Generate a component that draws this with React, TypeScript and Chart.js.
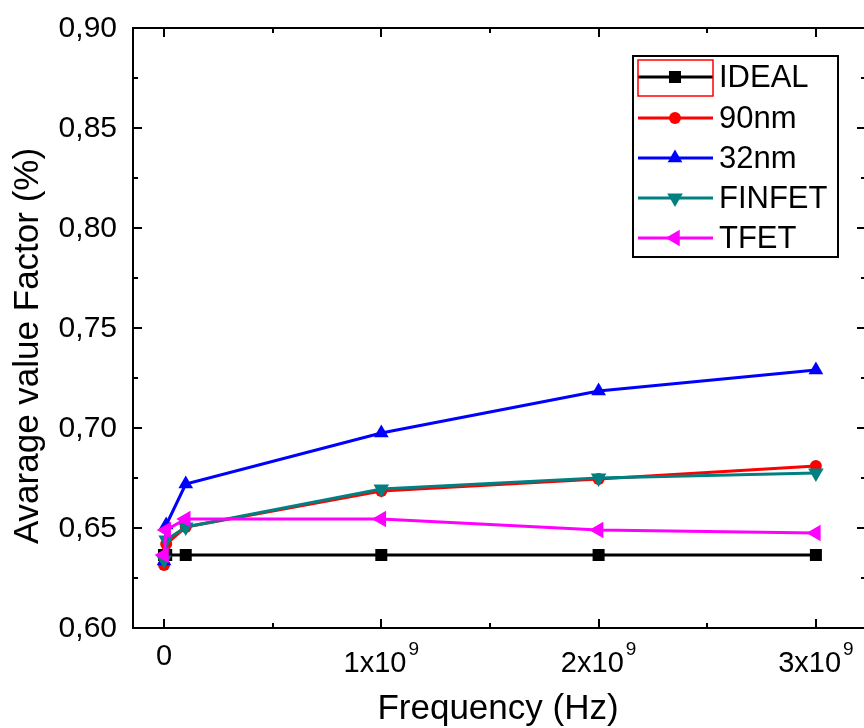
import React, { useEffect, useRef } from "react";
import { Chart, registerables } from "chart.js";

Chart.register(...registerables);

const frequencies = [0, 1e7, 1e8, 1e9, 2e9, 3e9];
const idealValues = [0.6365, 0.6365, 0.6365, 0.6365, 0.6365, 0.6365];
const nm90Values = [0.6315, 0.642, 0.6505, 0.6685, 0.6745, 0.681];
const nm32Values = [0.6335, 0.6515, 0.672, 0.6975, 0.7185, 0.729];
const finfetValues = [0.634, 0.644, 0.6505, 0.6695, 0.675, 0.6775];
const tfetValues = [0.6365, 0.649, 0.6545, 0.6545, 0.649, 0.6475];

const seriesNames = ["IDEAL", "90nm", "32nm", "FINFET", "TFET"];
const seriesColors = ["#000000", "#ff0000", "#0000ff", "#008080", "#ff00ff"];
const seriesMarkers = ["rect", "circle", "triangle", "triangle", "triangle"];
const seriesRotations = [0, 0, 0, 180, -90];
const seriesRadius = [8.5, 6, 8.5, 9, 9.5];

const yTickValues = [0.6, 0.65, 0.7, 0.75, 0.8, 0.85, 0.9];
const xTickValues = [0, 1e9, 2e9, 3e9];
const xTickMantissas = ["0", "1x10", "2x10", "3x10"];
const xTickExponent = "9";

const FONT = "'Liberation Sans', Arial, sans-serif";

function drawMarker(ctx: CanvasRenderingContext2D, style: string, rot: number, x: number, y: number, r: number, color: string) {
  ctx.save();
  ctx.fillStyle = color;
  ctx.translate(x, y);
  ctx.rotate((rot * Math.PI) / 180);
  ctx.beginPath();
  if (style === "rect") {
    const s = r * Math.SQRT1_2;
    ctx.rect(-s, -s, 2 * s, 2 * s);
  } else if (style === "circle") {
    ctx.arc(0, 0, r, 0, Math.PI * 2);
  } else {
    const h = (r * Math.sqrt(3)) / 2;
    ctx.moveTo(0, -r);
    ctx.lineTo(h, r / 2);
    ctx.lineTo(-h, r / 2);
    ctx.closePath();
  }
  ctx.fill();
  ctx.restore();
}

const framePlugin = {
  id: "framePlugin",
  afterDraw(chart: any) {
    const ctx: CanvasRenderingContext2D = chart.ctx;
    const { left, right, top, bottom } = chart.chartArea;
    const xs = chart.scales.x;
    const ys = chart.scales.y;
    ctx.save();
    ctx.strokeStyle = "#000";
    ctx.lineWidth = 2;
    ctx.strokeRect(left, top, right - left, bottom - top);

    for (let i = 0; i <= 12; i++) {
      const v = 0.6 + i * 0.025;
      const py = Math.round(ys.getPixelForValue(v));
      const len = i % 2 === 0 ? 9 : 5;
      ctx.beginPath();
      ctx.moveTo(left, py);
      ctx.lineTo(left + len, py);
      ctx.moveTo(right, py);
      ctx.lineTo(right - len, py);
      ctx.stroke();
    }
    for (let i = 0; i <= 6; i++) {
      const v = i * 0.5e9;
      const px = Math.round(xs.getPixelForValue(v));
      const len = i % 2 === 0 ? 9 : 5;
      ctx.beginPath();
      ctx.moveTo(px, bottom);
      ctx.lineTo(px, bottom - len);
      ctx.moveTo(px, top);
      ctx.lineTo(px, top + len);
      ctx.stroke();
    }

    ctx.fillStyle = "#000";
    ctx.font = `30px ${FONT}`;
    ctx.textAlign = "right";
    ctx.textBaseline = "middle";
    yTickValues.forEach((v) => {
      const py = ys.getPixelForValue(v);
      ctx.fillText(v.toFixed(2).replace(".", ","), 117, py + 1);
    });

    ctx.textBaseline = "alphabetic";
    xTickValues.forEach((v, i) => {
      const px = xs.getPixelForValue(v);
      const mant = xTickMantissas[i];
      ctx.font = `29px ${FONT}`;
      if (i === 0) {
        ctx.textAlign = "center";
        ctx.fillText(mant, px, 665);
      } else {
        const w1 = ctx.measureText(mant).width;
        ctx.font = `19px ${FONT}`;
        const w2 = ctx.measureText(xTickExponent).width;
        const start = px - (w1 + w2) / 2 - 1;
        ctx.textAlign = "left";
        ctx.font = `29px ${FONT}`;
        ctx.fillText(mant, start, 672);
        ctx.font = `19px ${FONT}`;
        ctx.fillText(xTickExponent, start + w1 + 2, 655);
      }
    });

    ctx.font = `35px ${FONT}`;
    ctx.textAlign = "center";
    ctx.textBaseline = "alphabetic";
    ctx.fillText("Frequency (Hz)", 498, 719);
    ctx.save();
    ctx.translate(38, 346);
    ctx.rotate(-Math.PI / 2);
    ctx.fillText("Avarage value Factor (%)", 0, 0);
    ctx.restore();

    const lx = 633, ly = 56, lw = 205, lh = 201;
    ctx.fillStyle = "#fff";
    ctx.fillRect(lx, ly, lw, lh);
    ctx.strokeStyle = "#000";
    ctx.lineWidth = 2;
    ctx.strokeRect(lx, ly, lw, lh);
    const rowY = [77, 118, 158, 198, 238];
    seriesNames.forEach((name, i) => {
      const y = rowY[i];
      ctx.strokeStyle = seriesColors[i];
      ctx.lineWidth = 3;
      ctx.beginPath();
      ctx.moveTo(638, y);
      ctx.lineTo(713, y);
      ctx.stroke();
      drawMarker(ctx, seriesMarkers[i], seriesRotations[i], 675, y, seriesRadius[i], seriesColors[i]);
      ctx.fillStyle = "#000";
      ctx.font = `31px ${FONT}`;
      ctx.textAlign = "left";
      ctx.textBaseline = "middle";
      ctx.fillText(name, 719, y + 1);
    });
    ctx.strokeStyle = "#ff0000";
    ctx.lineWidth = 1.5;
    ctx.strokeRect(638, 60, 75, 36);
    ctx.restore();
  },
};

export default function App() {
  const canvasRef = useRef<HTMLCanvasElement | null>(null);
  useEffect(() => {
    document.body.style.margin = "0";
    const canvas = canvasRef.current;
    if (!canvas) return;
    const seriesValues = [idealValues, nm90Values, nm32Values, finfetValues, tfetValues];
    const orders = [4, 3, 2, 1, 0];
    const chart = new Chart(canvas, {
      type: "scatter",
      data: {
        datasets: seriesNames.map((name, i) => ({
          label: name,
          data: frequencies.map((f, j) => ({ x: f, y: seriesValues[i][j] })),
          showLine: true,
          borderColor: seriesColors[i],
          backgroundColor: seriesColors[i],
          borderWidth: 3,
          pointStyle: seriesMarkers[i] as any,
          rotation: seriesRotations[i],
          pointRadius: seriesRadius[i],
          pointBorderWidth: 0,
          order: orders[i],
        })),
      },
      plugins: [framePlugin],
      options: {
        animation: false,
        responsive: false,
        devicePixelRatio: 1,
        layout: { autoPadding: false, padding: { left: 133, right: 2, top: 28, bottom: 100 } },
        plugins: { legend: { display: false }, tooltip: { enabled: false } },
        scales: {
          x: { type: "linear", display: false, min: -0.1427e9, max: 3.2306e9 },
          y: { type: "linear", display: false, min: 0.6, max: 0.9 },
        },
      },
    });
    return () => chart.destroy();
  }, []);
  return (
    <div style={{ width: 864, height: 728, overflow: "hidden" }}>
      <canvas ref={canvasRef} width={868} height={728} style={{ display: "block" }} />
    </div>
  );
}
